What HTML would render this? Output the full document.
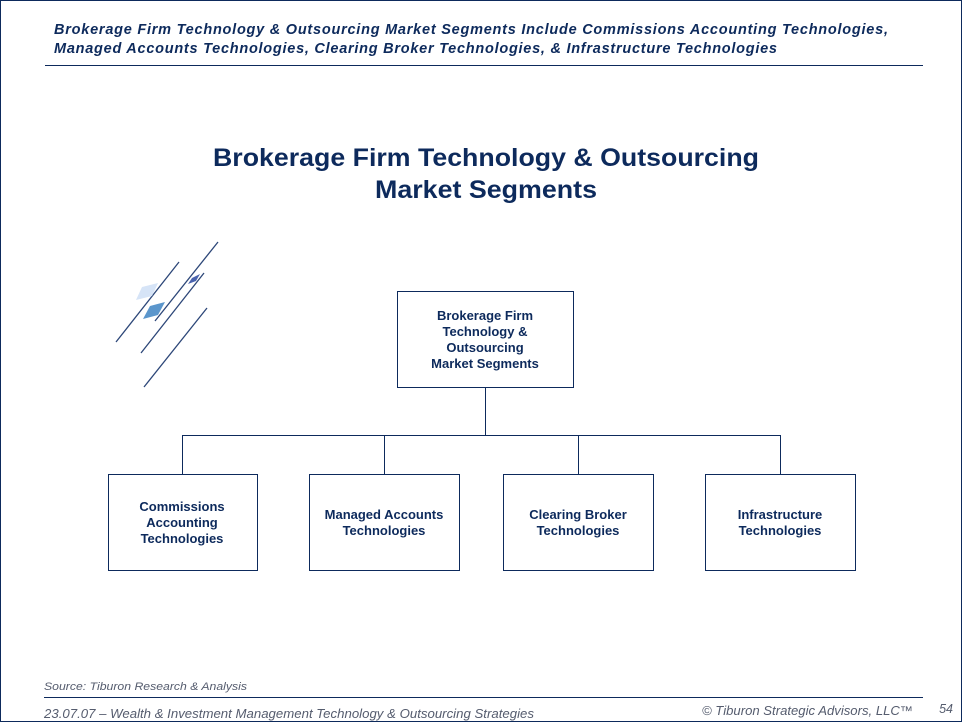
<!DOCTYPE html>
<html><head><style>
html,body{margin:0;padding:0;background:#fff}
svg{display:block}
text{font-family:"Liberation Sans",Arial,sans-serif}
</style></head><body>
<svg width="962" height="722" viewBox="0 0 962 722">
<rect x="0.5" y="0.5" width="961" height="721" fill="#fff" stroke="#0d2a5c" stroke-width="1"/>
<g fill="#0d2a5c" font-weight="bold" font-style="italic" font-size="14.5">
<text x="54" y="34" textLength="834" lengthAdjust="spacing">Brokerage Firm Technology &amp; Outsourcing Market Segments Include Commissions Accounting Technologies,</text>
<text x="54" y="53" textLength="723" lengthAdjust="spacing">Managed Accounts Technologies, Clearing Broker Technologies, &amp; Infrastructure Technologies</text>
</g>
<line x1="45" y1="65.5" x2="923" y2="65.5" stroke="#0d2a5c" stroke-width="1"/>
<g fill="#0d2a5c" font-weight="bold" font-size="25">
<text x="213" y="166" textLength="546" lengthAdjust="spacingAndGlyphs">Brokerage Firm Technology &amp; Outsourcing</text>
<text x="375" y="198" textLength="222" lengthAdjust="spacingAndGlyphs">Market Segments</text>
</g>
<g stroke="#2c4678" stroke-width="1.3">
<line x1="116" y1="342" x2="179" y2="262"/>
<line x1="155" y1="321" x2="218" y2="242"/>
<line x1="141" y1="353" x2="204" y2="273"/>
<line x1="144" y1="387" x2="207" y2="308"/>
</g>
<polygon points="136,300 142,287 158,283 152,296" fill="#d6e4f7"/>
<polygon points="143,319 150,306 165,302 158,315" fill="#5b96cc"/>
<polygon points="188,284 192,278 200,274 196,281" fill="#4a63ae"/>
<g fill="none" stroke="#0d2a5c" stroke-width="1">
<rect x="397.5" y="291.5" width="176" height="96"/>
<rect x="108.5" y="474.5" width="149" height="96"/>
<rect x="309.5" y="474.5" width="150" height="96"/>
<rect x="503.5" y="474.5" width="150" height="96"/>
<rect x="705.5" y="474.5" width="150" height="96"/>
<polyline points="485.5,387 485.5,435.5"/>
<line x1="182.5" y1="435.5" x2="780.5" y2="435.5"/>
<line x1="182.5" y1="435" x2="182.5" y2="474"/>
<line x1="384.5" y1="435" x2="384.5" y2="474"/>
<line x1="578.5" y1="435" x2="578.5" y2="474"/>
<line x1="780.5" y1="435" x2="780.5" y2="474"/>
</g>
<g fill="#0d2a5c" font-weight="bold" font-size="13" text-anchor="middle">
<text x="485" y="320">Brokerage Firm</text>
<text x="485" y="336">Technology &amp;</text>
<text x="485" y="352">Outsourcing</text>
<text x="485" y="368">Market Segments</text>
<text x="182" y="511">Commissions</text>
<text x="182" y="527">Accounting</text>
<text x="182" y="543">Technologies</text>
<text x="384" y="519">Managed Accounts</text>
<text x="384" y="535">Technologies</text>
<text x="578" y="519">Clearing Broker</text>
<text x="578" y="535">Technologies</text>
<text x="780" y="519">Infrastructure</text>
<text x="780" y="535">Technologies</text>
</g>
<text x="44" y="690" fill="#555c6e" font-style="italic" font-size="11" textLength="203" lengthAdjust="spacingAndGlyphs">Source:  Tiburon Research &amp; Analysis</text>
<line x1="44" y1="697.5" x2="923" y2="697.5" stroke="#0d2a5c" stroke-width="1"/>
<g fill="#555c6e" font-style="italic" font-size="12.5">
<text x="44" y="718" textLength="490" lengthAdjust="spacingAndGlyphs">23.07.07 – Wealth &amp; Investment Management  Technology &amp; Outsourcing Strategies</text>
<text x="702" y="715" textLength="211" lengthAdjust="spacingAndGlyphs">© Tiburon Strategic Advisors, LLC™</text>
<text x="953" y="713" text-anchor="end">54</text>
</g>
</svg>
</body></html>
